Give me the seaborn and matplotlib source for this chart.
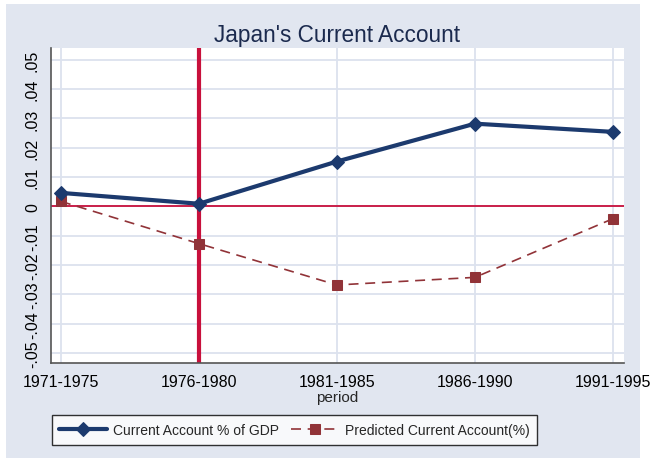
import matplotlib
matplotlib.use("Agg")
import matplotlib.pyplot as plt
from matplotlib.patches import Rectangle
import seaborn as sns
import pandas as pd

# data
periods = ["1971-1975", "1976-1980", "1981-1985", "1986-1990", "1991-1995"]
current_account = [0.0046, 0.0009, 0.0153, 0.0282, 0.0254]
predicted = [0.0017, -0.0127, -0.0268, -0.0242, -0.0042]
yticks = [-0.05, -0.04, -0.03, -0.02, -0.01, 0, 0.01, 0.02, 0.03, 0.04, 0.05]
ytick_labels = ["-.05", "-.04", "-.03", "-.02", "-.01", "0", ".01", ".02", ".03", ".04", ".05"]

sns.set_style("white")
plt.rcParams["font.family"] = ["Liberation Sans", "DejaVu Sans"]

bg = "#E1E6F0"
grid = "#DCE2EE"
navy = "#1C3A6E"
maroon = "#913338"
crimson = "#C8103C"

df = pd.DataFrame({"pos": range(len(periods)), "period": periods,
                   "ca": current_account, "pred": predicted})

fig = plt.figure(figsize=(6.52, 4.64), dpi=100)
fig.patch.set_facecolor("white")
fig.add_artist(Rectangle((6 / 652, 5 / 464), 634 / 652, 454 / 464,
                         transform=fig.transFigure, facecolor=bg,
                         edgecolor="none", zorder=-10))

ax = fig.add_axes([51 / 652, 100 / 464, 573 / 652, 315 / 464])
ax.set_facecolor("white")

# grid
for y in yticks:
    ax.axhline(y, color=grid, lw=1.3, zorder=0)
for x in df["pos"]:
    ax.axvline(x, color=grid, lw=1.3, zorder=0)

ax.axhline(0, color=crimson, lw=1.3, zorder=1)
ax.axvline(1, color=crimson, lw=3, zorder=1)

sns.lineplot(data=df, x="pos", y="ca", ax=ax, color=navy, lw=3,
             marker="D", markersize=7, markeredgecolor=navy,
             label="Current Account % of GDP", zorder=3, legend=False)
sns.lineplot(data=df, x="pos", y="pred", ax=ax, color=maroon, lw=1.2,
             linestyle=(0, (6, 4)), marker="s", markersize=6.5,
             markeredgecolor=maroon, label="Predicted Current Account(%)",
             zorder=2, legend=False)

ax.set_xlim(-0.072, 4.08)
ax.set_ylim(-0.0534, 0.054)
ax.set_xticks(df["pos"])
ax.set_xticklabels(periods, fontsize=11.5)
ax.set_yticks(yticks)
ax.set_yticklabels(ytick_labels, fontsize=11.5, rotation=90, va="center")
ax.tick_params(axis="both", direction="out", length=5, width=1,
               colors="#555555", labelcolor="black", pad=3)

for s in ["top", "right"]:
    ax.spines[s].set_visible(False)
for s in ["left", "bottom"]:
    ax.spines[s].set_color("#555555")
    ax.spines[s].set_linewidth(1.2)

ax.set_xlabel("period", fontsize=11, labelpad=1)
ax.set_ylabel("")
ax.set_title("Japan's Current Account", fontsize=16.3, color="#1B2A4E", pad=5)

handles, labels = ax.get_legend_handles_labels()
leg = fig.legend(handles, labels, loc="center", bbox_to_anchor=(294.5 / 652, 33 / 464),
                 ncol=2, fontsize=10, frameon=True, fancybox=False,
                 edgecolor="black", handlelength=3.4, columnspacing=0.9,
                 borderpad=0.55, borderaxespad=0, handletextpad=0.45)
leg.get_frame().set_linewidth(1)

fig.savefig("out.png", dpi=100, facecolor="white")
